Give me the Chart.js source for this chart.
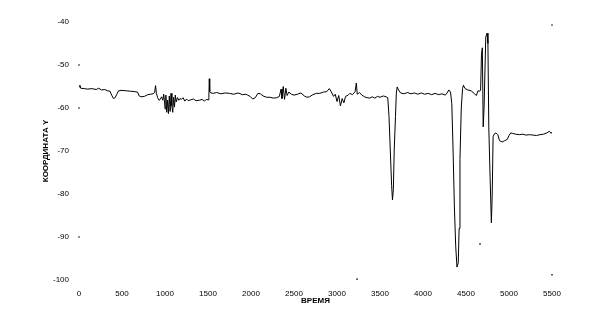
<!DOCTYPE html>
<html>
<head>
<meta charset="utf-8">
<script src="https://cdn.jsdelivr.net/npm/chart.js@4.4.1/dist/chart.umd.min.js"></script>
<style>
  body { margin: 0; background: #fff; }
  #wrap { width: 609px; height: 315px; }
</style>
</head>
<body>
<div id="wrap"><canvas id="chart" width="609" height="315"></canvas></div>
<script>
// time (x) and coordinate Y
const timeValues = [
  0, 10, 20, 60, 100, 150, 200, 230, 260, 300, 330, 360, 380, 400, 420, 440, 460, 500, 550, 600,
  650, 680, 700, 720, 760, 800, 830, 860, 880, 890, 900, 915, 930, 945, 960, 975,
  985, 995, 1000, 1010, 1020, 1030, 1040, 1050, 1060, 1070, 1080, 1090, 1100, 1110, 1120, 1130,
  1145, 1160, 1175, 1190, 1210, 1230, 1250, 1270, 1300, 1330, 1360, 1400, 1430, 1460, 1480, 1500,
  1510, 1515, 1520, 1535, 1560, 1600, 1650, 1700, 1750, 1800, 1850, 1900, 1940, 1960, 1990, 2020,
  2050, 2080, 2110, 2140, 2180, 2220, 2260, 2300, 2330, 2350, 2360, 2375, 2390, 2405, 2420, 2440,
  2470, 2500, 2540, 2580, 2620, 2650, 2680, 2720, 2760, 2800, 2840, 2880, 2910, 2930, 2960, 2980,
  3000, 3020, 3040, 3060, 3080, 3100, 3130, 3150, 3180, 3210, 3225, 3235, 3260, 3290, 3320, 3350,
  3380, 3410, 3440, 3470, 3500, 3540, 3570, 3590, 3605, 3620, 3635, 3645, 3655, 3665, 3680, 3690,
  3700, 3715, 3740, 3780, 3820, 3860, 3900, 3940, 3980, 4020, 4060, 4100, 4140, 4180, 4220, 4260,
  4280, 4300, 4320, 4335, 4350, 4365, 4380, 4395, 4410, 4420, 4430, 4445, 4460, 4470, 4490, 4520,
  4560, 4600, 4620, 4640, 4660, 4670, 4680, 4690, 4700, 4710, 4730, 4745, 4755, 4765, 4780, 4795,
  4805, 4815, 4830, 4850, 4870, 4890, 4920, 4950, 4980, 5000, 5020, 5040, 5080, 5120, 5160, 5200,
  5240, 5280, 5320, 5360, 5400, 5440, 5470, 5490, 5500
];
const coordValues = [
  -55.1, -54.7, -55.4, -55.5, -55.6, -55.5, -55.7, -55.4, -55.8, -55.7, -56.0, -56.1, -57.0, -57.8, -57.6, -56.8, -56.0, -55.9, -56.0, -56.1,
  -56.2, -56.3, -57.2, -57.4, -57.3, -56.9, -56.8, -56.7, -56.4, -54.8, -56.6, -57.6, -58.2, -58.0, -57.4, -58.2,
  -56.8, -58.6, -60.2, -57.0, -61.0, -58.2, -61.3, -57.2, -60.8, -56.6, -59.5, -61.0, -57.5, -59.8, -57.0, -58.6,
  -57.6, -58.2, -57.8, -58.0, -57.6, -58.4, -57.9, -58.3, -58.1, -57.9, -58.3, -58.2, -58.0, -58.4, -58.0, -58.1,
  -57.5, -53.2, -56.2, -56.5, -56.6, -56.4, -56.7, -56.5, -56.6, -56.8, -56.5, -56.9, -56.8, -57.0, -57.3, -57.9,
  -57.6, -56.6, -56.7, -57.2, -57.5, -57.5, -57.7, -57.6, -57.3, -55.6, -57.8, -55.0, -58.0, -55.4, -57.1, -56.3,
  -56.8, -57.0, -56.8, -56.5, -57.2, -57.5, -57.4, -56.9, -56.6, -56.6, -56.3, -56.2, -55.5, -56.1, -57.3, -56.8,
  -58.5, -57.1, -59.5, -57.8, -58.8, -57.3, -57.0, -56.6, -56.9, -56.2, -54.2, -56.8, -56.4, -57.0, -57.4, -57.6,
  -57.7, -57.4, -57.7, -57.3, -57.5, -57.2, -57.4, -57.6, -62.0, -70.0, -78.0, -81.4, -79.0, -70.0, -62.0, -56.5,
  -55.1, -55.8, -56.5, -56.7, -56.4, -56.7, -56.5, -56.8, -56.5, -56.8, -56.6, -56.9, -56.6, -56.9, -56.7, -57.0,
  -56.5, -55.8, -56.3, -59.0, -70.0, -83.0, -92.0, -97.0, -96.0, -88.0, -72.0, -60.0, -55.5, -54.7, -55.5, -55.8,
  -56.0, -56.7, -57.1, -56.0, -56.1, -55.8, -47.5, -46.0, -64.4, -60.0, -43.5, -42.6, -45.0, -64.4, -76.0, -86.7,
  -80.0, -66.7, -66.0, -65.8, -66.2, -67.6, -67.9, -67.6, -67.3, -66.4, -65.8, -65.9, -66.1, -66.2, -66.1, -66.3,
  -66.2, -66.3, -66.4, -66.2, -66.1, -65.8, -65.4, -65.9, -65.6
];
// isolated marks
const strayTime = [0, 0, 0, 3233, 4663, 5500, 5500];
const strayCoord = [-50, -60, -90, -99.8, -91.6, -40.7, -98.8];

const xMin = 0, xMax = 5500, xStep = 500;
const yMin = -100, yMax = -40, yStep = 10;

const lineData = timeValues.map((t, i) => ({ x: t, y: coordValues[i] }));
const strayData = strayTime.map((t, i) => ({ x: t, y: strayCoord[i] }));

const tickFont = { family: 'Liberation Sans', size: 8 };

new Chart(document.getElementById('chart'), {
  type: 'line',
  data: {
    datasets: [
      {
        data: lineData,
        borderColor: '#000',
        borderWidth: 1,
        pointRadius: 0,
        tension: 0,
        fill: false
      },
      {
        type: 'scatter',
        data: strayData,
        backgroundColor: '#000',
        borderColor: '#000',
        pointRadius: 0.8,
        borderWidth: 0,
        clip: false
      }
    ]
  },
  options: {
    responsive: false,
    animation: false,
    devicePixelRatio: 1,
    layout: { padding: { top: 22, right: 57, left: 0, bottom: 0 } },
    plugins: { legend: { display: false }, tooltip: { enabled: false } },
    scales: {
      x: {
        type: 'linear',
        min: xMin,
        max: xMax,
        grid: { display: false },
        border: { display: false },
        ticks: {
          stepSize: xStep, color: '#000', font: tickFont, padding: 1, maxRotation: 0,
          callback: (v) => String(v)
        },
        title: {
          display: true,
          text: 'ВРЕМЯ',
          color: '#000',
          font: { family: 'Liberation Sans', size: 8, weight: 'bold' },
          padding: { top: 0, bottom: 9 }
        },
        afterFit: (scale) => { scale.height = 35; }
      },
      y: {
        min: yMin,
        max: yMax,
        grid: { display: false },
        border: { display: false },
        ticks: { stepSize: yStep, color: '#000', font: tickFont, padding: 2, callback: (v) => String(v) },
        title: {
          display: true,
          text: 'КООРДИНАТА Y',
          color: '#000',
          font: { family: 'Liberation Sans', size: 8, weight: 'bold' },
          padding: { top: 41, bottom: 0 }
        },
        afterFit: (scale) => { scale.width = 79; }
      }
    }
  }
});
</script>
</body>
</html>
